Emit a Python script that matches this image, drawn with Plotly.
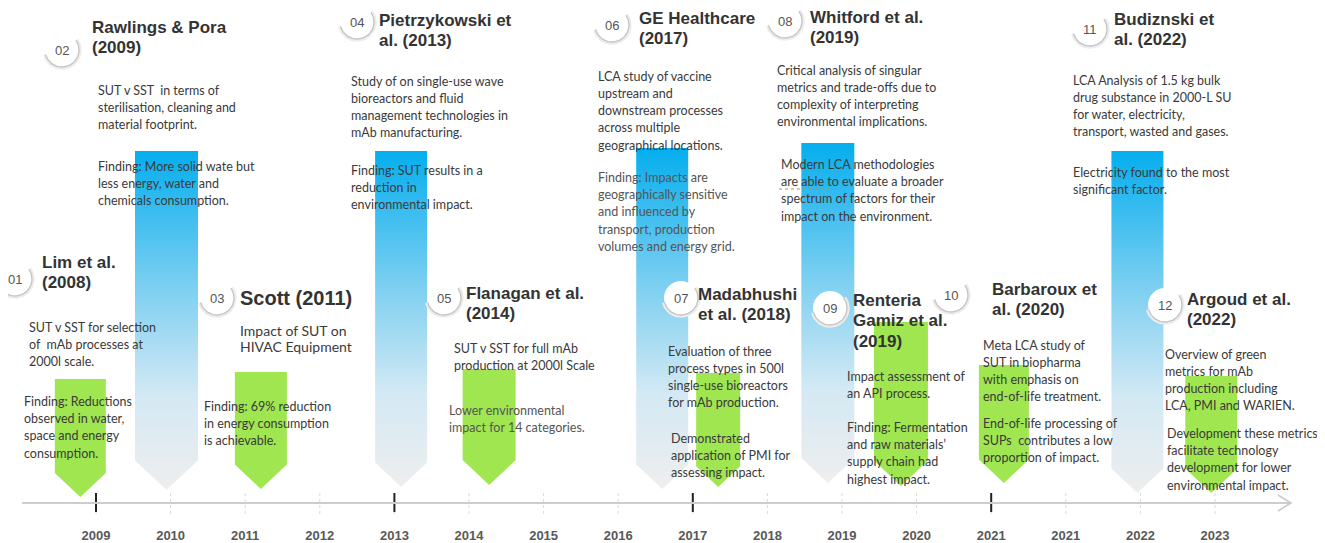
import numpy as np
import plotly.graph_objects as go

# ---- data -------------------------------------------------------------
year_labels = ["2009", "2010", "2011", "2012", "2013", "2014", "2015", "2016",
               "2017", "2018", "2019", "2020", "2021", "2021", "2022", "2023"]
major_ticks = [0, 4, 8, 12]          # solid black ticks on the timeline

numbers = ["01", "02", "03", "04", "05", "06", "07", "08", "09", "10", "11", "12"]
authors = [
    ["Lim et al.", "(2008)"],
    ["Rawlings & Pora", "(2009)"],
    ["Scott (2011)"],
    ["Pietrzykowski et", "al. (2013)"],
    ["Flanagan et al.", "(2014)"],
    ["GE Healthcare", "(2017)"],
    ["Madabhushi", "et al. (2018)"],
    ["Whitford et al.", "(2019)"],
    ["Renteria", "Gamiz et al.", "(2019)"],
    ["Barbaroux et", "al. (2020)"],
    ["Budiznski et", "al. (2022)"],
    ["Argoud et al.", "(2022)"],
]
descriptions = [
    ["SUT v SST for selection", "of  mAb processes at", "2000l scale."],
    ["SUT v SST  in terms of", "sterilisation, cleaning and", "material footprint."],
    ["Impact of SUT on", "HIVAC Equipment"],
    ["Study of on single-use wave", "bioreactors and fluid", "management technologies in", "mAb manufacturing."],
    ["SUT v SST for full mAb", "production at 2000l Scale"],
    ["LCA study of vaccine", "upstream and", "downstream processes", "across multiple", "geographical locations."],
    ["Evaluation of three", "process types in 500l", "single-use bioreactors", "for mAb production."],
    ["Critical analysis of singular", "metrics and trade-offs due to", "complexity of interpreting", "environmental implications."],
    ["Impact assessment of", "an API process."],
    ["Meta LCA study of", "SUT in biopharma", "with emphasis on", "end-of-life treatment."],
    ["LCA Analysis of 1.5 kg bulk", "drug substance in 2000-L SU", "for water, electricity,", "transport, wasted and gases."],
    ["Overview of green", "metrics for mAb", "production including", "LCA, PMI and WARIEN."],
]
findings = [
    ["Finding: Reductions", "observed in water,", "space and energy", "consumption."],
    ["Finding: More solid wate but", "less energy, water and", "chemicals consumption."],
    ["Finding: 69% reduction", "in energy consumption", "is achievable."],
    ["Finding: SUT results in a", "reduction in", "environmental impact."],
    ["Lower environmental", "impact for 14 categories."],
    ["Finding: Impacts are", "geographically sensitive", "and influenced by", "transport, production", "volumes and energy grid."],
    ["Demonstrated", "application of PMI for", "assessing impact."],
    ["Modern LCA methodologies", "are able to evaluate a broader", "spectrum of factors for their", "impact on the environment."],
    ["Finding: Fermentation", "and raw materials\u2019", "supply chain had", "highest impact."],
    ["End-of-life processing of", "SUPs  contributes a low", "proportion of impact."],
    ["Electricity found to the most", "significant factor."],
    ["Development these metrics", "facilitate technology", "development for lower", "environmental impact."],
]
# where each study sits on the timeline (in tick units)
timeline_pos = [-0.21, 0.945, 2.21, 4.09, 5.27, 7.59, 8.34, 9.81, 10.79, 12.17, 13.96, 14.95]
arrow_kind = ["green", "blue", "green", "blue", "green", "blue",
              "green", "blue", "green", "green", "blue", "green"]

# ---- layout / style ---------------------------------------------------
W, H = 1325, 543
OFF = 8                      # page margin the browser puts around the plot
BOTTOM = 17
X0, DX = 96.0, 74.6          # pixel of first tick, pixels per tick


def px(v):
    return (np.asarray(v, dtype=float) - X0) / DX


arrow_w = [51, 63, 52, 52, 53, 52, 44, 53, 54, 50, 52, 52]
arrow_top = [379, 151, 372, 151, 369, 148, 373, 143, 322, 365, 151, 376]
arrow_tip = [497, 490, 489, 487, 485, 489, 487, 483, 486, 483, 493, 493]

circle_c = [(15, 279), (62, 50), (217, 298), (357, 22), (444, 298), (612, 25),
            (681, 298), (785, 21), (830, 308), (951, 295), (1090, 29), (1165, 305)]
circle_r = 17

title_xy = [(40, 262), (90, 27), (238, 298), (377, 20), (464, 293), (637, 18),
            (696, 294), (808, 17), (851, 300), (990, 289), (1112, 19), (1185, 299)]
desc_xy = [(27, 327), (96, 90), (238, 330), (349, 81), (452, 348), (596, 76),
           (666, 351), (775, 70), (845, 376), (981, 345), (1071, 80), (1163, 354)]
find_xy = [(22, 401), (96, 166), (202, 406), (349, 170), (447, 410), (596, 177),
           (669, 438), (779, 164), (845, 427), (981, 423), (1071, 172), (1165, 433)]

GREEN = "#9FE650"
BLUE_SCALE = [[0.0, "#05AEEE"], [0.4, "#7CCFF1"], [0.72, "#D3E9F4"], [1.0, "#EEEEEE"]]
BODY_FONT = "Lato"
TITLE_FONT = "Liberation Sans"
TEXT_C = "#3a3a3a"

fig = go.Figure()

# timeline arrows
for i, kind in enumerate(arrow_kind):
    c = timeline_pos[i]
    hw = arrow_w[i] / 2 / DX
    tip = arrow_tip[i]
    sh = tip - 0.47 * arrow_w[i]
    xs = [c - hw, c + hw, c + hw, c, c - hw, c - hw]
    ys = [arrow_top[i], arrow_top[i], sh, tip, sh, arrow_top[i]]
    tr = dict(x=xs, y=ys, mode="lines", line=dict(width=0), fill="toself",
              hoverinfo="skip", showlegend=False)
    if kind == "blue":
        tr["fillgradient"] = dict(type="vertical", colorscale=BLUE_SCALE,
                                  start=arrow_top[i], stop=tip)
    else:
        tr["fillcolor"] = GREEN
    fig.add_trace(go.Scatter(**tr))

# numbered discs with a soft shadow arc
cx = [float(px(c[0])) for c in circle_c]
cy = [c[1] for c in circle_c]
fig.add_trace(go.Scatter(x=cx, y=cy, mode="markers",
                         marker=dict(size=2 * circle_r, color="white", line=dict(width=0)),
                         hoverinfo="skip", showlegend=False))
theta = np.radians(np.linspace(-35, 165, 40))
for (ccx, ccy) in circle_c:
    for rr, col, lw in [(circle_r + 1.2, "#ECECEC", 3), (circle_r, "#C4C4C4", 1.3)]:
        fig.add_trace(go.Scatter(x=px(ccx + rr * np.cos(theta)), y=ccy + rr * np.sin(theta),
                                 mode="lines", line=dict(color=col, width=lw),
                                 hoverinfo="skip", showlegend=False))

# timeline axis: dashed and solid ticks
tx, ty = [], []
for i in range(len(year_labels)):
    tx += [i, i, None]
    ty += [493, 514, None]
fig.add_trace(go.Scatter(x=tx, y=ty, mode="lines",
                         line=dict(color="#DADADA", width=1, dash="dot"),
                         hoverinfo="skip", showlegend=False))
mx, my = [], []
for i in major_ticks:
    mx += [i, i, None]
    my += [493, 512, None]
fig.add_trace(go.Scatter(x=mx, y=my, mode="lines", line=dict(color="#222222", width=2),
                         hoverinfo="skip", showlegend=False))
fig.add_trace(go.Scatter(x=px([22, 1290]), y=[503, 503], mode="lines",
                         line=dict(color="#CDCDCD", width=2),
                         hoverinfo="skip", showlegend=False))
fig.add_trace(go.Scatter(x=px([1278, 1291, 1278]), y=[495, 503, 511], mode="lines",
                         line=dict(color="#C8C8C8", width=1.5),
                         hoverinfo="skip", showlegend=False))

# spell-check underline under "are able to"
fig.add_trace(go.Scatter(x=px([779, 832]), y=[189, 189], mode="lines",
                         line=dict(color="#D98A1E", width=1.2, dash="dot"),
                         hoverinfo="skip", showlegend=False))


def add_lines(lines, x, y0, dy, size, family, color, weight="normal"):
    for k, t in enumerate(lines):
        fig.add_annotation(x=float(px(x)), y=y0 + k * dy, text=t, showarrow=False,
                           xanchor="left", yanchor="middle", align="left",
                           font=dict(family=family, size=size, color=color, weight=weight))


for i in range(len(numbers)):
    fig.add_annotation(x=cx[i], y=cy[i], text=numbers[i], showarrow=False,
                       font=dict(family=TITLE_FONT, size=13, color="#555555"))
    tsize = 20 if i == 2 else 17
    add_lines(authors[i], title_xy[i][0], title_xy[i][1], 20.5, tsize, TITLE_FONT,
              "#333333", "bold")
    dsize = 14 if i == 2 else 12.5
    ddy = 16.5 if i == 2 else 17.3
    add_lines(descriptions[i], desc_xy[i][0], desc_xy[i][1], ddy, dsize, BODY_FONT, TEXT_C)
    fcol = "#555555" if i in (4, 5) else TEXT_C
    add_lines(findings[i], find_xy[i][0], find_xy[i][1], 17.4, 12.5, BODY_FONT, fcol)

fig.update_layout(
    width=W - OFF, height=H - OFF,
    margin=dict(l=0, r=0, t=0, b=BOTTOM),
    paper_bgcolor="white", plot_bgcolor="white",
    xaxis=dict(range=[float(px(OFF)), float(px(W))], tickvals=list(range(len(year_labels))),
               ticktext=year_labels, showgrid=False, zeroline=False, showline=False,
               ticks="", tickfont=dict(family=TITLE_FONT, size=13, color="#595959",
                                       weight="bold"),
               fixedrange=True),
    yaxis=dict(range=[H - BOTTOM, OFF], visible=False, fixedrange=True),
    showlegend=False,
)

fig.write_html("out.html")
